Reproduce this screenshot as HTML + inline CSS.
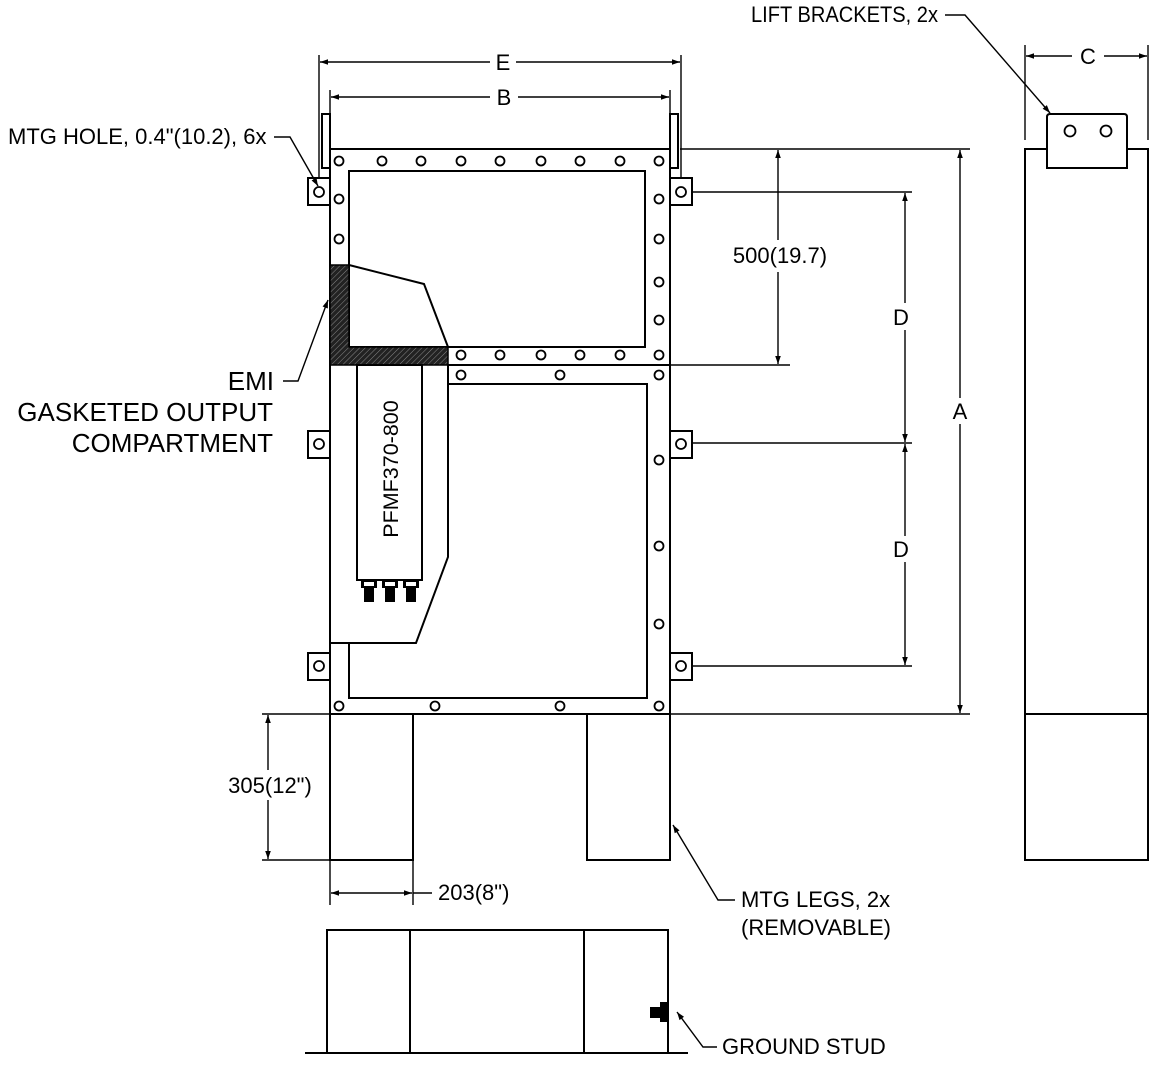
<!DOCTYPE html>
<html><head><meta charset="utf-8"><style>
html,body{margin:0;padding:0;background:#fff;}
svg{display:block;}
text{font-family:"Liberation Sans",Arial,sans-serif;fill:#000;}
</style></head><body>
<svg width="1176" height="1076" viewBox="0 0 1176 1076" xmlns="http://www.w3.org/2000/svg">
<defs>
<marker id="ar" viewBox="0 0 10 10" refX="10" refY="5" markerWidth="12" markerHeight="8" orient="auto-start-reverse" markerUnits="userSpaceOnUse"><path d="M0,1.5 L10,5 L0,8.5 Z" fill="#000"/></marker>
<pattern id="hatch" width="4" height="4" patternUnits="userSpaceOnUse" patternTransform="rotate(45)"><rect width="4" height="4" fill="#222"/><line x1="0" y1="0" x2="0" y2="4" stroke="#888" stroke-width="1"/></pattern>
</defs>
<g fill="none" stroke="#000" stroke-width="2">
<rect x="330" y="149" width="340" height="565"/>
<line x1="448" y1="365" x2="670" y2="365"/>
<rect x="349" y="171" width="296" height="176"/>
<path d="M330,265 H349 V347 H448 V365 H330 Z" fill="url(#hatch)" stroke-width="1.5"/>
<polyline points="349,265 424,284 448,347"/>
<path d="M448,384 H647 V698 H349 V643"/>
<path d="M330,643 H416 L448,557 V365"/>
<rect x="357" y="365" width="65" height="215"/>
<text x="398" y="469" font-size="21.5" transform="rotate(-90 398 469)" text-anchor="middle" stroke="none">PFMF370-800</text>
<g fill="#000" stroke="none">
<rect x="361" y="580" width="16" height="8"/><rect x="364" y="588" width="10" height="14"/>
<rect x="382" y="580" width="16" height="8"/><rect x="385" y="588" width="10" height="14"/>
<rect x="403" y="580" width="16" height="8"/><rect x="406" y="588" width="10" height="14"/>
</g>
<g fill="#fff" stroke="none"><rect x="364" y="582" width="10" height="4"/><rect x="385" y="582" width="10" height="4"/><rect x="406" y="582" width="10" height="4"/></g>
<rect x="322" y="114" width="8" height="54"/>
<rect x="670" y="114" width="8" height="54"/>
<rect x="308" y="178" width="22" height="27"/><rect x="670" y="178" width="22" height="27"/>
<rect x="308" y="431" width="22" height="27"/><rect x="670" y="431" width="22" height="27"/>
<rect x="308" y="653" width="22" height="27"/><rect x="670" y="653" width="22" height="27"/>
</g>
<g fill="none" stroke="#000" stroke-width="1.8">
<circle cx="319" cy="192" r="5"/><circle cx="681" cy="192" r="5"/>
<circle cx="319" cy="444" r="5"/><circle cx="681" cy="444" r="5"/>
<circle cx="319" cy="666" r="5"/><circle cx="681" cy="666" r="5"/>
<circle cx="339" cy="161" r="4.5"/><circle cx="382" cy="161" r="4.5"/><circle cx="421" cy="161" r="4.5"/><circle cx="461" cy="161" r="4.5"/><circle cx="500" cy="161" r="4.5"/><circle cx="541" cy="161" r="4.5"/><circle cx="580" cy="161" r="4.5"/><circle cx="620" cy="161" r="4.5"/><circle cx="659" cy="161" r="4.5"/>
<circle cx="339" cy="199" r="4.5"/><circle cx="339" cy="239" r="4.5"/>
<circle cx="659" cy="199" r="4.5"/><circle cx="659" cy="239" r="4.5"/><circle cx="659" cy="282" r="4.5"/><circle cx="659" cy="320" r="4.5"/>
<circle cx="461" cy="355" r="4.5"/><circle cx="500" cy="355" r="4.5"/><circle cx="541" cy="355" r="4.5"/><circle cx="580" cy="355" r="4.5"/><circle cx="620" cy="355" r="4.5"/><circle cx="659" cy="355" r="4.5"/>
<circle cx="461" cy="375" r="4.5"/><circle cx="560" cy="375" r="4.5"/><circle cx="659" cy="375" r="4.5"/>
<circle cx="659" cy="460" r="4.5"/><circle cx="659" cy="546" r="4.5"/><circle cx="659" cy="624" r="4.5"/>
<circle cx="339" cy="706" r="4.5"/><circle cx="435" cy="706" r="4.5"/><circle cx="560" cy="706" r="4.5"/><circle cx="659" cy="706" r="4.5"/>
</g>
<g fill="none" stroke="#000" stroke-width="2">
<rect x="330" y="714" width="83" height="146"/>
<rect x="587" y="714" width="83" height="146"/>
<rect x="1025" y="149" width="123" height="711"/>
<line x1="1025" y1="714" x2="1148" y2="714"/>
<path d="M1047,168 V117 Q1047,114 1050,114 H1124 Q1127,114 1127,117 V168 Z" fill="#fff"/>
<circle cx="1070" cy="131" r="5.5" stroke-width="1.8"/><circle cx="1106" cy="131" r="5.5" stroke-width="1.8"/>
<rect x="327" y="930" width="341" height="123"/>
<line x1="410" y1="930" x2="410" y2="1053"/><line x1="584" y1="930" x2="584" y2="1053"/>
<line x1="305" y1="1053" x2="688" y2="1053"/>
</g>
<g fill="#000"><rect x="660" y="1002" width="8" height="20"/><rect x="650" y="1007" width="10" height="11"/></g>
<g fill="none" stroke="#000" stroke-width="1.4">
<line x1="319" y1="55" x2="319" y2="178"/><line x1="681" y1="55" x2="681" y2="178"/>
<line x1="330" y1="90" x2="330" y2="114"/><line x1="670" y1="90" x2="670" y2="114"/>
<line x1="320" y1="62" x2="490" y2="62" marker-start="url(#ar)"/><line x1="516" y1="62" x2="680" y2="62" marker-end="url(#ar)"/>
<line x1="331" y1="97" x2="490" y2="97" marker-start="url(#ar)"/><line x1="518" y1="97" x2="669" y2="97" marker-end="url(#ar)"/>
<line x1="1025" y1="45" x2="1025" y2="140"/><line x1="1148" y1="45" x2="1148" y2="140"/>
<line x1="1026" y1="56" x2="1072" y2="56" marker-start="url(#ar)"/><line x1="1104" y1="56" x2="1147" y2="56" marker-end="url(#ar)"/>
<line x1="680" y1="149" x2="970" y2="149"/><line x1="670" y1="714" x2="970" y2="714"/>
<line x1="960" y1="150" x2="960" y2="398" marker-start="url(#ar)"/><line x1="960" y1="424" x2="960" y2="713" marker-end="url(#ar)"/>
<line x1="692" y1="192" x2="912" y2="192"/><line x1="692" y1="443" x2="912" y2="443"/><line x1="692" y1="666" x2="912" y2="666"/>
<line x1="905" y1="193" x2="905" y2="303" marker-start="url(#ar)"/><line x1="905" y1="330" x2="905" y2="442" marker-end="url(#ar)"/>
<line x1="905" y1="444" x2="905" y2="536" marker-start="url(#ar)"/><line x1="905" y1="562" x2="905" y2="665" marker-end="url(#ar)"/>
<line x1="670" y1="365" x2="790" y2="365"/>
<line x1="778" y1="150" x2="778" y2="240" marker-start="url(#ar)"/><line x1="778" y1="272" x2="778" y2="364" marker-end="url(#ar)"/>
<line x1="262" y1="714" x2="330" y2="714"/><line x1="262" y1="860" x2="330" y2="860"/>
<line x1="268" y1="715" x2="268" y2="770" marker-start="url(#ar)"/><line x1="268" y1="800" x2="268" y2="859" marker-end="url(#ar)"/>
<line x1="330" y1="860" x2="330" y2="905"/><line x1="413" y1="860" x2="413" y2="905"/>
<line x1="331" y1="893" x2="412" y2="893" marker-start="url(#ar)" marker-end="url(#ar)"/>
<line x1="413" y1="893" x2="432" y2="893"/>
<polyline points="274,137 290,137 318,186" marker-end="url(#ar)"/>
<polyline points="283,381 298,381 328,300" marker-end="url(#ar)"/>
<polyline points="945,15 965,15 1050,113" marker-end="url(#ar)"/>
<polyline points="735,900 718,900 673,825" marker-end="url(#ar)"/>
<polyline points="717,1047 703,1047 677,1012" marker-end="url(#ar)"/>
</g>
<g font-size="22" stroke="none">
<text x="503" y="70" text-anchor="middle">E</text>
<text x="504" y="105" text-anchor="middle">B</text>
<text x="1088" y="64" text-anchor="middle">C</text>
<text x="960" y="419" text-anchor="middle">A</text>
<text x="901" y="325" text-anchor="middle">D</text>
<text x="901" y="557" text-anchor="middle">D</text>
<text x="780" y="263" text-anchor="middle">500(19.7)</text>
<text x="270" y="793" text-anchor="middle">305(12")</text>
<text x="438" y="900">203(8")</text>
<text x="8" y="144">MTG HOLE, 0.4"(10.2), 6x</text>
<text x="751" y="22" textLength="187" lengthAdjust="spacingAndGlyphs">LIFT BRACKETS, 2x</text>
<text x="741" y="907">MTG LEGS, 2x</text>
<text x="741" y="935">(REMOVABLE)</text>
<text x="722" y="1054">GROUND STUD</text>
</g>
<g font-size="26" stroke="none" text-anchor="end">
<text x="274" y="390">EMI</text>
<text x="273" y="421">GASKETED OUTPUT</text>
<text x="273" y="452">COMPARTMENT</text>
</g>
</svg>
</body></html>
